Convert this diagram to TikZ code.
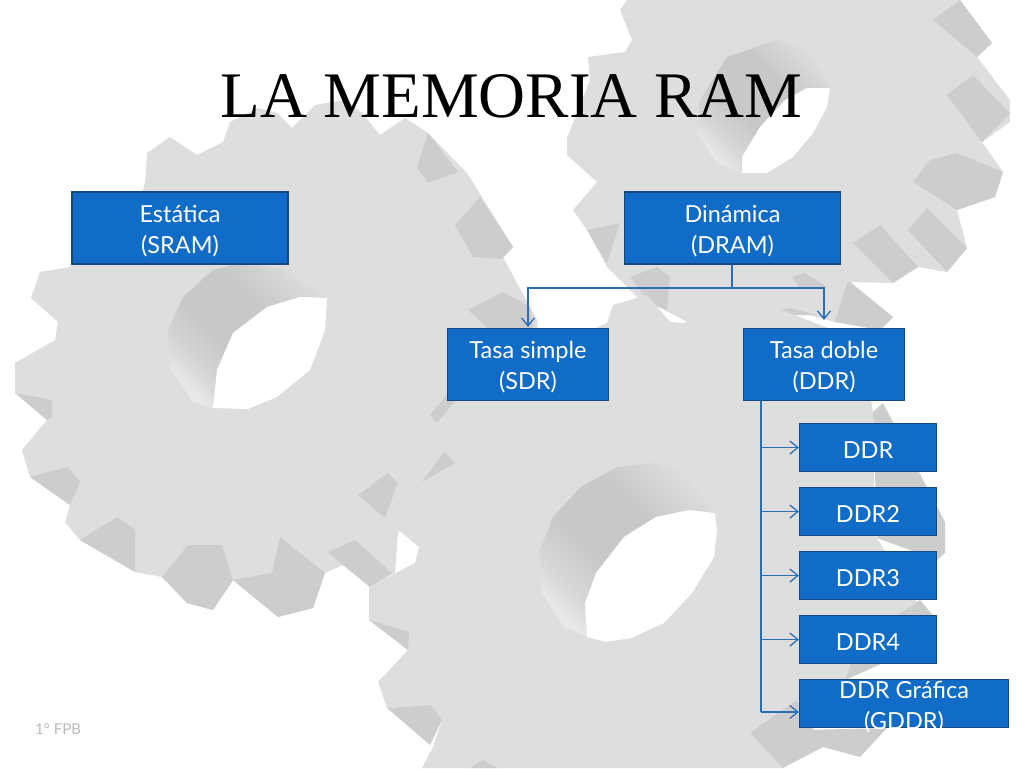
\documentclass[tikz,border=0pt]{standalone}
\usepackage{fontspec}
\setmainfont{Lato}
\newfontfamily\titlefont{Liberation Serif}
\usetikzlibrary{arrows.meta}
\definecolor{gearface}{HTML}{DEDEDE}
\definecolor{gearside}{HTML}{CDCDCD}
\definecolor{gearglow}{HTML}{E8E8E8}
\definecolor{gearmid}{HTML}{D8D8D8}
\definecolor{geardark}{HTML}{C8C8C8}
\definecolor{boxblue}{HTML}{106CC6}
\definecolor{boxedge}{HTML}{14497F}
\definecolor{linkblue}{HTML}{2A6FB6}
\pgfdeclareverticalshading{tubeshade}{100bp}{color(0bp)=(gearglow); color(24bp)=(gearglow); color(30bp)=(gearmid); color(42bp)=(geardark); color(60bp)=(geardark); color(78bp)=(gearface); color(100bp)=(gearface)}
\tikzset{
  face/.style={fill=gearface},
  side/.style={fill=gearside},
  hole/.style={fill=white},
  tube/.style={shading=tubeshade,shading angle=-45},
  membox/.style={draw=boxedge,line width=1.2pt,fill=boxblue,text=white,inner sep=0pt,
    font=\fontsize{23.5}{31}\selectfont,align=center,minimum width=#1},
  tallbox/.style={membox=#1,minimum height=72pt,text height=50.5pt,text depth=0pt},
  flatbox/.style={membox=#1,minimum height=48pt,text height=21pt,text depth=0pt},
  link/.style={draw=linkblue,line width=1.5pt,-{Straight Barb[length=8pt,width=13pt,line width=1.3pt]}},
  trunk/.style={draw=linkblue,line width=1.5pt}
}
\begin{document}
\begin{tikzpicture}[x=1pt,y=-1pt]
  \useasboundingbox (0,0) rectangle (1024,768);
  % top right gear
  \fill[face] (620,10) -- (627,0) -- (960,0) -- (992,43) -- (977,57) -- (1010,100) -- (1010,122)
    -- (982,142) -- (1003,172) -- (995,197) -- (957,210) -- (967,248) -- (947,272) -- (918,267)
    -- (893,283) -- (850,282) -- (893,317) -- (880,330) -- (835,322) -- (790,310) -- (755,318)
    -- (700,330) -- (680,318) -- (667,310) -- (640,300) -- (607,267) -- (587,230) -- (573,210)
    -- (597,182) -- (567,155) -- (567,138) -- (590,80) -- (588,57) -- (625,52) -- (632,40) -- cycle;
  \fill[side] (933,20) -- (960,0) -- (992,43) -- (977,57) -- cycle
    (947,95) -- (973,75) -- (1010,113) -- (982,142) -- cycle
    (913,182) -- (930,160) -- (957,153) -- (1003,172) -- (995,197) -- (957,210) -- cycle
    (908,230) -- (927,208) -- (967,248) -- (947,272) -- cycle
    (853,243) -- (880,225) -- (918,267) -- (893,283) -- cycle
    (847,283) -- (850,282) -- (893,317) -- (880,330) -- (835,322) -- cycle
    (792,277) -- (805,273) -- (827,287) -- (800,288) -- cycle
    (755,315) -- (790,308) -- (817,315) -- cycle
    (587,230) -- (620,223) -- (607,263) -- cycle
    (630,277) -- (657,267) -- (670,277) -- (667,310) -- (680,317) -- (650,303) -- cycle;
  \shade[tube] (742,173) -- (717,163) -- (697,133) -- (700,100) -- (727,57) -- (777,40) -- (807,50) -- (830,88) -- cycle;
  \fill[hole] (830,88) -- (807,88) -- (785,100) -- (760,127) -- (742,157) -- (742,173) -- (767,173)
    -- (793,157) -- (813,133) -- (827,107) -- cycle;
  % left gear
  \fill[face] (147,153) -- (170,137) -- (197,155) -- (223,142) -- (230,122) -- (258,108) -- (277,113)
    -- (292,128) -- (315,105) -- (345,100) -- (362,113) -- (380,135) -- (405,118) -- (428,133)
    -- (467,173) -- (513,247) -- (503,257) -- (537,320) -- (540,400) -- (470,490) -- (423,490)
    -- (398,533) -- (395,573) -- (370,587) -- (343,565) -- (325,573) -- (313,608) -- (278,617)
    -- (233,580) -- (213,610) -- (187,603) -- (162,577) -- (135,572) -- (80,540) -- (65,522)
    -- (70,505) -- (30,477) -- (22,450) -- (47,420) -- (15,393) -- (15,363) -- (55,340) -- (58,322)
    -- (31,298) -- (40,272) -- (70,267) -- (143,190) -- (145,183) -- cycle;
  \fill[side] (417,168) -- (428,133) -- (458,172) -- (428,183) -- cycle
    (455,225) -- (480,197) -- (513,247) -- (502,259) -- (473,257) -- cycle
    (468,310) -- (503,292) -- (530,307) -- (535,340) -- (500,340) -- cycle
    (358,495) -- (388,473) -- (398,483) -- (385,518) -- cycle
    (355,540) -- (392,573) -- (370,587) -- (343,565) -- (328,552) -- cycle
    (272,573) -- (280,537) -- (325,573) -- (313,608) -- (278,617) -- (233,580) -- cycle
    (233,580) -- (213,610) -- (187,603) -- (162,577) -- (188,545) -- (222,545) -- cycle
    (135,572) -- (80,540) -- (117,517) -- (135,530) -- cycle
    (30,477) -- (68,467) -- (80,482) -- (70,505) -- cycle
    (15,393) -- (52,400) -- (52,417) -- (47,420) -- cycle;
  \shade[tube] (213,408) -- (193,402) -- (170,367) -- (168,330) -- (183,297) -- (213,270) -- (240,263) -- (280,268) -- (327,298) -- cycle;
  \fill[hole] (327,298) -- (300,297) -- (267,307) -- (233,333) -- (217,370) -- (213,408) -- (248,409)
    -- (277,397) -- (310,370) -- (325,330) -- cycle;
  % central gear
  \fill[face] (613,305) -- (647,295) -- (670,322) -- (685,323) -- (710,287) -- (742,295) -- (860,340)
    -- (873,412) -- (875,535) -- (925,615) -- (883,663) -- (845,680) -- (800,700) -- (750,733) -- (783,768)
    -- (422,768) -- (433,747) -- (442,720) -- (431,705) -- (387,708) -- (378,682) -- (408,650)
    -- (369,620) -- (369,587) -- (396,573) -- (415,563) -- (419,547) -- (401,532) -- (385,520)
    -- (397,485) -- (422,482) -- (455,463) -- (437,423) -- (430,415) -- (447,395) -- (607,323) -- cycle;
  \fill[side] (883,403) -- (945,522) -- (945,553) -- (937,560) -- (877,538) -- (873,412) -- cycle
    (920,600) -- (937,620) -- (883,663) -- (845,680) -- (860,640) -- cycle
    (750,733) -- (797,700) -- (823,747) -- (783,768) -- cycle
    (803,730) -- (887,728) -- (860,757) -- (823,747) -- cycle
    (369,620) -- (409,632) -- (408,650) -- cycle
    (387,708) -- (431,705) -- (442,720) -- (430,745) -- cycle
    (470,768) -- (483,760) -- (497,768) -- cycle
    (430,415) -- (447,395) -- (456,400) -- (437,423) -- cycle
    (422,482) -- (444,452) -- (455,463) -- cycle;
  \shade[tube] (587,637) -- (564,627) -- (542,593) -- (540,550) -- (553,517) -- (581,487) -- (617,467) -- (653,463) -- (681,470) -- (715,513) -- cycle;
  \fill[hole] (715,513) -- (689,510) -- (656,517) -- (624,537) -- (596,573) -- (585,603) -- (587,637) -- (606,642)
    -- (631,638) -- (664,623) -- (692,593) -- (714,557) -- (717,530) -- cycle;
  % title and footer
  \node[font=\titlefont\fontsize{65}{65}\selectfont,inner sep=0pt] (titulo) at (511.5,96.5) {LA MEMORIA RAM};
  \node[font=\fontsize{15}{15}\selectfont,text=gray!55,inner sep=0pt] (pie) at (58,729) {1° FPB};
  % boxes
  \node[tallbox=216pt] (sram) at (180,228) {Estática\\(SRAM)};
  \node[tallbox=216pt] (dram) at (732.5,228) {Dinámica\\(DRAM)};
  \node[tallbox=161pt] (sdr) at (528,364.5) {Tasa simple\\(SDR)};
  \node[tallbox=161pt] (ddrdoble) at (824,364.5) {Tasa doble\\(DDR)};
  \node[flatbox=137pt] (ddr) at (868,447.5) {DDR};
  \node[flatbox=137pt] (ddrdos) at (868,511.5) {DDR2};
  \node[flatbox=137pt] (ddrtres) at (868,575.5) {DDR3};
  \node[flatbox=137pt] (ddrcuatro) at (868,639.5) {DDR4};
  \node[membox=209pt,minimum height=48pt] (gddr) at (904,703.5) {\smash{\raisebox{-10pt}{\parbox[c]{209pt}{\centering DDR Gráfica\\(GDDR)}}}};
  % connectors
  \coordinate (dramcruce) at (732,288);
  \coordinate (ddrtronco) at (761,401);
  \coordinate (ddrfin) at (761,712);
  \draw[trunk] (dram.south -| dramcruce) -- (dramcruce);
  \draw[link,shorten >=1pt] (dramcruce) -| (sdr.north);
  \draw[link,shorten >=8pt] (dramcruce) -| (ddrdoble.north);
  \draw[trunk] (ddrtronco) -- (ddrfin);
  \foreach \sub in {ddr,ddrdos,ddrtres,ddrcuatro}
    \draw[link] (\sub.west -| ddrtronco) -- (\sub.west);
  \draw[link] (ddrfin) -- (gddr.west |- ddrfin);
\end{tikzpicture}
\end{document}
